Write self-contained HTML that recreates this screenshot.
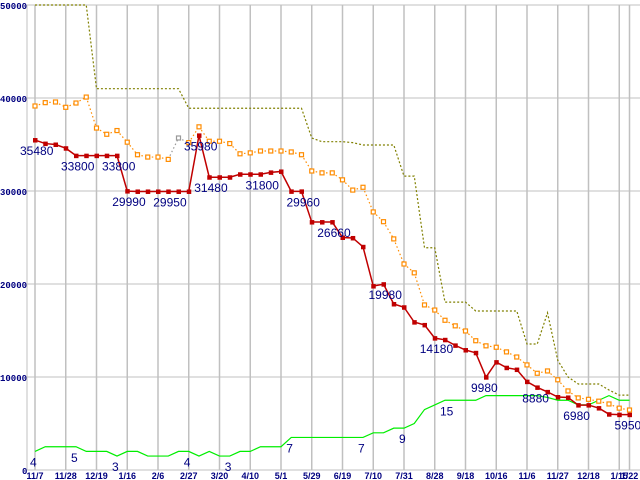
<!DOCTYPE html>
<html><head><meta charset="utf-8"><style>
html,body{margin:0;padding:0;background:#fff;width:640px;height:480px;overflow:hidden}
svg{display:block}
</style></head><body>
<svg id="chart" width="640" height="480" xmlns="http://www.w3.org/2000/svg"></svg>
<script>
const xLabels=["11/7","11/28","12/19","1/16","2/6","2/27","3/20","4/10","5/1","5/29","6/19","7/10","7/31","8/28","9/18","10/16","11/6","11/27","12/18","1/15","1/22"];
const yTicks=[0,10000,20000,30000,40000,50000];
const redSeries=[35480,35100,35000,34600,33800,33800,33800,33800,33800,29990,29950,29950,29950,29950,29950,29950,35980,31480,31480,31480,31800,31800,31800,32000,32100,29960,29960,26660,26660,26660,25000,24950,24000,19780,19980,17850,17500,15900,15600,14180,14000,13400,12900,12600,9980,11600,11000,10800,9500,8880,8400,7850,7800,6980,6980,6660,6000,5950,5950];
const orangeSeries=[39140,39500,39570,39000,39460,40100,36770,36100,36500,35250,33900,33650,33650,33400,35700,35200,36900,35350,35350,35100,34000,34100,34300,34300,34300,34200,33900,32150,31950,31950,31200,30100,30400,27750,26700,24850,22150,21200,17750,17200,16100,15500,14950,13900,13350,13200,12700,12150,11300,10400,10650,9700,8500,7750,7600,7400,7100,6650,6450];
const oliveSeries=[50000,50000,50000,50000,50000,50000,41000,41000,41000,41000,41000,41000,41000,41000,41000,38900,38900,38900,38900,38900,38900,38900,38900,38900,38900,38900,38900,35700,35300,35300,35300,35200,34950,34950,34950,34950,31600,31600,23900,23900,18050,18050,18050,17100,17100,17100,17100,17100,13550,13550,16900,11800,10000,9250,9250,9250,8600,8050,8050];
const greenCounts=[4,5,5,5,5,4,4,4,3,4,4,3,3,3,4,4,3,4,3,3,4,4,5,5,5,7,7,7,7,7,7,7,7,8,8,9,9,10,13,14,15,15,15,15,16,16,16,16,16,16,15.6,15,15,14,14,15,16,15,15];
const redLabelIdx=[0,4,8,9,13,16,17,22,26,29,34,39,44,49,53,58];
const greenLabelIdx=[0,4,8,15,19,25,32,36,40];

const svg=document.getElementById('chart');
const NS='http://www.w3.org/2000/svg';
const X0=35, DX=10.25, Y0=470, YS=465/50000;
const xi=i=>X0+i*DX;
const yv=v=>Y0-v*YS;
const GUNIT=500;
function mk(tag,attrs,parent){const e=document.createElementNS(NS,tag);for(const k in attrs)e.setAttribute(k,attrs[k]);(parent||svg).appendChild(e);return e;}

const grid=mk('g',{});


yTicks.forEach(v=>{
  const l=mk('line',{x1:27,x2:640,y1:yv(v),y2:yv(v),stroke:'#c0c0c0','stroke-width':1},grid);
  
  
  const t=mk('text',{x:v===0?22:0,y:yv(v)+4,'font-family':'Liberation Mono, monospace','font-size':9,'font-weight':'bold',fill:'#000080'},grid);
  t.textContent=String(v);
  
  
});
xLabels.forEach((s,k)=>{
  const x=k<20?X0+k*3*DX:xi(58);
  const l=mk('line',{x1:x,x2:x,y1:5,y2:470,stroke:'#c0c0c0','stroke-width':1.5},grid);
  
  
  const t=mk('text',{x:x,y:479,'text-anchor':'middle','font-family':'Liberation Sans, sans-serif','font-size':9,'font-weight':'bold',fill:'#000080'},grid);
  t.textContent=s;
  
  
});
mk('line',{x1:27,x2:27,y1:5,y2:470,stroke:'#c0c0c0','stroke-width':1});

function pts(arr,f){return arr.map((v,i)=>xi(i)+','+f(v)).join(' ');}
const ol=mk('polyline',{points:pts(oliveSeries,yv),fill:'none',stroke:'#808000','stroke-width':1.2,'stroke-dasharray':'2,2'});


const gr=mk('polyline',{points:pts(greenCounts,c=>yv(c*GUNIT)),fill:'none',stroke:'#00ee00','stroke-width':1.2});


const og=mk('g',{});


for(let i=0;i<orangeSeries.length-1;i++){
  const gray=(i===13||i===14);
  mk('line',{x1:xi(i),y1:yv(orangeSeries[i]),x2:xi(i+1),y2:yv(orangeSeries[i+1]),stroke:gray?'#999':'#ff8c00','stroke-width':1.2,'stroke-dasharray':'1.5,2.5'},og);
}
orangeSeries.forEach((v,i)=>{
  const r=mk('rect',{x:xi(i)-2,y:yv(v)-2,width:4,height:4,fill:'#fff',stroke:i===14?'#999':'#ff8c00','stroke-width':1.2},og);
  
  
});
const rg=mk('g',{});


mk('polyline',{points:pts(redSeries,yv),fill:'none',stroke:'#c00000','stroke-width':1.5},rg);
redSeries.forEach((v,i)=>{
  const r=mk('rect',{x:xi(i)-2,y:yv(v)-2,width:4.5,height:4.5,fill:'#c00000'},rg);
  
  
});
redLabelIdx.forEach(i=>{
  const t=mk('text',{x:xi(i)-15,y:yv(redSeries[i])+15,'font-family':'Liberation Sans, sans-serif','font-size':12,fill:'#000080'});
  t.textContent=String(redSeries[i]);
  
  
});
greenLabelIdx.forEach(i=>{
  const t=mk('text',{x:xi(i)-5,y:yv(greenCounts[i]*GUNIT)+15,'font-family':'Liberation Sans, sans-serif','font-size':12,fill:'#000080'});
  t.textContent=String(greenCounts[i]);
  
  
});
</script>
</body></html>
